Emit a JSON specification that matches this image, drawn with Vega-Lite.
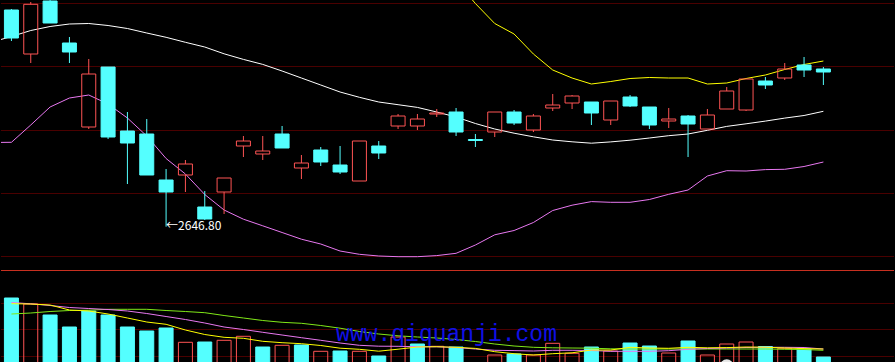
{
  "$schema": "https://vega.github.io/schema/vega-lite/v6.json",
  "width": 895,
  "height": 362,
  "autosize": {"type": "fit", "contains": "padding"},
  "padding": 0,
  "background": "#000000",
  "config": {"view": {"stroke": null}},
  "datasets": {
    "candles": [
      {"i":0,"open":2863.5,"close":2835.5,"high":2864.5,"low":2832.5},
      {"i":1,"open":2819.5,"close":2869.2,"high":2871.5,"low":2810.5},
      {"i":2,"open":2872.5,"close":2850.5,"high":2878.5,"low":2850.5},
      {"i":3,"open":2830.5,"close":2821.5,"high":2836.5,"low":2810.5},
      {"i":4,"open":2746.5,"close":2799.5,"high":2814.5,"low":2744.5},
      {"i":5,"open":2806.5,"close":2736.5,"high":2806.5,"low":2734.5},
      {"i":6,"open":2742.5,"close":2730.5,"high":2761.5,"low":2689.5},
      {"i":7,"open":2739.5,"close":2698.5,"high":2754.5,"low":2698.5},
      {"i":8,"open":2693.5,"close":2681.5,"high":2704.5,"low":2646.8},
      {"i":9,"open":2698.5,"close":2709.5,"high":2713.5,"low":2681.5},
      {"i":10,"open":2666.5,"close":2654.5,"high":2682.5,"low":2653.5},
      {"i":11,"open":2681.5,"close":2695.5,"high":2695.5,"low":2659.5},
      {"i":12,"open":2727.5,"close":2732.5,"high":2737.5,"low":2716.5},
      {"i":13,"open":2719.5,"close":2722.5,"high":2737.5,"low":2713.5},
      {"i":14,"open":2739.5,"close":2725.5,"high":2747.5,"low":2725.5},
      {"i":15,"open":2705.5,"close":2710.5,"high":2718.5,"low":2694.5},
      {"i":16,"open":2723.5,"close":2711.5,"high":2726.5,"low":2707.5},
      {"i":17,"open":2708.5,"close":2701.5,"high":2727.5,"low":2699.5},
      {"i":18,"open":2692.5,"close":2732.5,"high":2732.5,"low":2692.5},
      {"i":19,"open":2727.5,"close":2720.5,"high":2732.5,"low":2714.5},
      {"i":20,"open":2747.5,"close":2757.5,"high":2759.5,"low":2744.5},
      {"i":21,"open":2747.5,"close":2754.5,"high":2759.5,"low":2743.5},
      {"i":22,"open":2759.5,"close":2760.5,"high":2764.5,"low":2756.5},
      {"i":23,"open":2761.5,"close":2741.5,"high":2765.5,"low":2737.5},
      {"i":24,"open":2734,"close":2733,"high":2739.5,"low":2726.5},
      {"i":25,"open":2741.5,"close":2761.5,"high":2761.5,"low":2736.5},
      {"i":26,"open":2761.5,"close":2750.5,"high":2763.5,"low":2748.5},
      {"i":27,"open":2743.5,"close":2757.5,"high":2759.5,"low":2741.5},
      {"i":28,"open":2765.5,"close":2768.5,"high":2779.5,"low":2762.5},
      {"i":29,"open":2770.5,"close":2777.5,"high":2778.5,"low":2764.5},
      {"i":30,"open":2771.5,"close":2760.5,"high":2771.5,"low":2748.5},
      {"i":31,"open":2753.5,"close":2772.5,"high":2772.5,"low":2748.5},
      {"i":32,"open":2776.5,"close":2767.5,"high":2778.5,"low":2766.5},
      {"i":33,"open":2766.5,"close":2748.5,"high":2766.5,"low":2744.5},
      {"i":34,"open":2752.5,"close":2754.5,"high":2765.5,"low":2745.5},
      {"i":35,"open":2757.5,"close":2749.5,"high":2758.5,"low":2716.5},
      {"i":36,"open":2744.5,"close":2758.5,"high":2764.5,"low":2744.5},
      {"i":37,"open":2764.5,"close":2782.5,"high":2786.5,"low":2764.5},
      {"i":38,"open":2763.5,"close":2794.5,"high":2794.5,"low":2762.5},
      {"i":39,"open":2792.5,"close":2788.5,"high":2796.5,"low":2784.5},
      {"i":40,"open":2795.5,"close":2804.5,"high":2810.5,"low":2793.5},
      {"i":41,"open":2808.5,"close":2803.5,"high":2816.5,"low":2796.5},
      {"i":42,"open":2804.5,"close":2801.5,"high":2806.5,"low":2788.5}
    ],
    "bands": [
      {"i":-1,"mid":2831.5,"lower":2731},
      {"i":0,"mid":2837,"lower":2731.2},
      {"i":1,"mid":2843,"lower":2748.5},
      {"i":2,"mid":2847,"lower":2766.5},
      {"i":3,"mid":2849.5,"lower":2775.5},
      {"i":4,"mid":2850,"lower":2778.5},
      {"i":5,"mid":2848,"lower":2769.5},
      {"i":6,"mid":2845,"lower":2755.5},
      {"i":7,"mid":2840.5,"lower":2737.5},
      {"i":8,"mid":2836.2,"lower":2715},
      {"i":9,"mid":2831.2,"lower":2699.5},
      {"i":10,"mid":2826.5,"lower":2679},
      {"i":11,"mid":2819.7,"lower":2663.5},
      {"i":12,"mid":2814.1,"lower":2654.3},
      {"i":13,"mid":2809.1,"lower":2647.7},
      {"i":14,"mid":2802.5,"lower":2641},
      {"i":15,"mid":2795.5,"lower":2634.3},
      {"i":16,"mid":2788.5,"lower":2629.5},
      {"i":17,"mid":2781.5,"lower":2622.5},
      {"i":18,"mid":2776.2,"lower":2619.2},
      {"i":19,"mid":2771.5,"lower":2617.5},
      {"i":20,"mid":2768.8,"lower":2616.8},
      {"i":21,"mid":2766.1,"lower":2616.8},
      {"i":22,"upper":2905.1,"mid":2761.5,"lower":2617.9},
      {"i":23,"upper":2892.8,"mid":2756.5,"lower":2620.2},
      {"i":24,"upper":2870,"mid":2750,"lower":2628.5},
      {"i":25,"upper":2850,"mid":2744.5,"lower":2638.7},
      {"i":26,"upper":2839.5,"mid":2740.3,"lower":2643},
      {"i":27,"upper":2819.5,"mid":2736.7,"lower":2651},
      {"i":28,"upper":2803.5,"mid":2733.5,"lower":2663},
      {"i":29,"upper":2795.5,"mid":2731.7,"lower":2668.3},
      {"i":30,"upper":2789.5,"mid":2730.3,"lower":2671.9},
      {"i":31,"upper":2792,"mid":2731.6,"lower":2671.2},
      {"i":32,"upper":2795,"mid":2733.3,"lower":2671.2},
      {"i":33,"upper":2796,"mid":2735.5,"lower":2674},
      {"i":34,"upper":2795.5,"mid":2737.8,"lower":2679.2},
      {"i":35,"upper":2795.5,"mid":2739.5,"lower":2683.5},
      {"i":36,"upper":2789.5,"mid":2743.2,"lower":2697.5},
      {"i":37,"upper":2790.5,"mid":2747.1,"lower":2702.8},
      {"i":38,"upper":2795,"mid":2749.7,"lower":2702.5},
      {"i":39,"upper":2798.5,"mid":2752.4,"lower":2703.9},
      {"i":40,"upper":2804,"mid":2755.4,"lower":2704.2},
      {"i":41,"upper":2809,"mid":2758,"lower":2707},
      {"i":42,"upper":2812.5,"mid":2762.2,"lower":2711.5}
    ],
    "vol": [
      {"i":0,"vol":3120,"dir":"down"},{"i":1,"vol":2880,"dir":"up"},{"i":2,"vol":2440,"dir":"down"},
      {"i":3,"vol":1960,"dir":"down"},{"i":4,"vol":2600,"dir":"down"},{"i":5,"vol":2440,"dir":"down"},
      {"i":6,"vol":1960,"dir":"down"},{"i":7,"vol":1800,"dir":"down"},{"i":8,"vol":1920,"dir":"down"},
      {"i":9,"vol":1348,"dir":"up"},{"i":10,"vol":1360,"dir":"down"},{"i":11,"vol":1428,"dir":"up"},
      {"i":12,"vol":1588,"dir":"up"},{"i":13,"vol":1160,"dir":"down"},{"i":14,"vol":1228,"dir":"up"},
      {"i":15,"vol":1240,"dir":"down"},{"i":16,"vol":988,"dir":"up"},{"i":17,"vol":1000,"dir":"down"},
      {"i":18,"vol":988,"dir":"up"},{"i":19,"vol":800,"dir":"down"},{"i":20,"vol":1560,"dir":"up"},
      {"i":21,"vol":1280,"dir":"down"},{"i":22,"vol":1188,"dir":"up"},{"i":23,"vol":1160,"dir":"down"},
      {"i":24,"vol":332,"dir":"down"},{"i":25,"vol":840,"dir":"up"},{"i":26,"vol":880,"dir":"down"},
      {"i":27,"vol":840,"dir":"up"},{"i":28,"vol":1308,"dir":"up"},{"i":29,"vol":908,"dir":"up"},
      {"i":30,"vol":1160,"dir":"down"},{"i":31,"vol":1000,"dir":"up"},{"i":32,"vol":1320,"dir":"down"},
      {"i":33,"vol":1200,"dir":"down"},{"i":34,"vol":920,"dir":"up"},{"i":35,"vol":1400,"dir":"down"},
      {"i":36,"vol":840,"dir":"up"},{"i":37,"vol":1280,"dir":"up"},{"i":38,"vol":1360,"dir":"up"},
      {"i":39,"vol":1180,"dir":"down"},{"i":40,"vol":1108,"dir":"up"},{"i":41,"vol":1080,"dir":"down"},
      {"i":42,"vol":760,"dir":"down"}
    ],
    "vma": [
      {"i":0,"ma5":2892,"ma10":2940,"ma20":2480},
      {"i":1,"ma5":2880,"ma10":2888,"ma20":2520},
      {"i":2,"ma5":2840,"ma10":2820,"ma20":2580},
      {"i":3,"ma5":2640,"ma10":2740,"ma20":2620},
      {"i":4,"ma5":2600,"ma10":2700,"ma20":2632},
      {"i":5,"ma5":2480,"ma10":2660,"ma20":2668},
      {"i":6,"ma5":2320,"ma10":2600,"ma20":2668},
      {"i":7,"ma5":2160,"ma10":2500,"ma20":2668},
      {"i":8,"ma5":2068,"ma10":2380,"ma20":2620},
      {"i":9,"ma5":1840,"ma10":2260,"ma20":2580},
      {"i":10,"ma5":1660,"ma10":2120,"ma20":2532},
      {"i":11,"ma5":1548,"ma10":1960,"ma20":2420},
      {"i":12,"ma5":1508,"ma10":1860,"ma20":2320},
      {"i":13,"ma5":1388,"ma10":1748,"ma20":2220},
      {"i":14,"ma5":1332,"ma10":1640,"ma20":2148},
      {"i":15,"ma5":1292,"ma10":1532,"ma20":2108},
      {"i":16,"ma5":1220,"ma10":1428,"ma20":2020},
      {"i":17,"ma5":1112,"ma10":1320,"ma20":1912},
      {"i":18,"ma5":1068,"ma10":1228,"ma20":1780},
      {"i":19,"ma5":992,"ma10":1192,"ma20":1680},
      {"i":20,"ma5":1072,"ma10":1188,"ma20":1608},
      {"i":21,"ma5":1160,"ma10":1172,"ma20":1560},
      {"i":22,"ma5":1172,"ma10":1168,"ma20":1520},
      {"i":23,"ma5":1148,"ma10":1140,"ma20":1460},
      {"i":24,"ma5":1104,"ma10":1080,"ma20":1380},
      {"i":25,"ma5":972,"ma10":1028,"ma20":1280},
      {"i":26,"ma5":892,"ma10":1016,"ma20":1200},
      {"i":27,"ma5":840,"ma10":1000,"ma20":1148},
      {"i":28,"ma5":892,"ma10":1028,"ma20":1128},
      {"i":29,"ma5":928,"ma10":1028,"ma20":1120},
      {"i":30,"ma5":1040,"ma10":1020,"ma20":1112},
      {"i":31,"ma5":1040,"ma10":988,"ma20":1088},
      {"i":32,"ma5":1148,"ma10":988,"ma20":1080},
      {"i":33,"ma5":1120,"ma10":988,"ma20":1080},
      {"i":34,"ma5":1108,"ma10":1012,"ma20":1080},
      {"i":35,"ma5":1148,"ma10":1068,"ma20":1080},
      {"i":36,"ma5":1128,"ma10":1100,"ma20":1080},
      {"i":37,"ma5":1136,"ma10":1120,"ma20":1080},
      {"i":38,"ma5":1160,"ma10":1140,"ma20":1080},
      {"i":39,"ma5":1152,"ma10":1148,"ma20":1080},
      {"i":40,"ma5":1120,"ma10":1148,"ma20":1068},
      {"i":41,"ma5":1096,"ma10":1140,"ma20":1060},
      {"i":42,"ma5":1080,"ma10":1080,"ma20":1028}
    ]
  },
  "layer": [
    {
      "layer": [
        {
          "data": {"values": [{"p":2870},{"p":2807},{"p":2743},{"p":2680},{"p":2617}]},
          "mark": {"type": "rule", "color": "#4a0000", "strokeWidth": 1},
          "encoding": {"y": {"field": "p", "type": "quantitative", "scale": {"domain": [2511.5, 2873.5], "nice": false, "zero": false}, "axis": null}}
        },
        {
          "data": {"values": [{"p":2603}]},
          "mark": {"type": "rule", "color": "#c83020", "strokeWidth": 1},
          "encoding": {"y": {"field": "p", "type": "quantitative", "scale": {"domain": [2511.5, 2873.5], "nice": false, "zero": false}, "axis": null}}
        },
        {
          "data": {"name": "bands"},
          "mark": {"type": "line", "color": "#ffffff", "strokeWidth": 1, "clip": true},
          "encoding": {
            "x": {"field": "i", "type": "quantitative", "scale": {"domain": [-0.2807, 45.394], "nice": false, "zero": false}, "axis": null},
            "y": {"field": "mid", "type": "quantitative", "scale": {"domain": [2511.5, 2873.5], "nice": false, "zero": false}, "axis": null}
          }
        },
        {
          "data": {"name": "bands"},
          "mark": {"type": "line", "color": "#e878f0", "strokeWidth": 1, "clip": true},
          "encoding": {
            "x": {"field": "i", "type": "quantitative", "scale": {"domain": [-0.2807, 45.394], "nice": false, "zero": false}, "axis": null},
            "y": {"field": "lower", "type": "quantitative", "scale": {"domain": [2511.5, 2873.5], "nice": false, "zero": false}, "axis": null}
          }
        },
        {
          "data": {"name": "bands"},
          "transform": [{"filter": "isValid(datum.upper)"}],
          "mark": {"type": "line", "color": "#ffff00", "strokeWidth": 1, "clip": true},
          "encoding": {
            "x": {"field": "i", "type": "quantitative", "scale": {"domain": [-0.2807, 45.394], "nice": false, "zero": false}, "axis": null},
            "y": {"field": "upper", "type": "quantitative", "scale": {"domain": [2511.5, 2873.5], "nice": false, "zero": false}, "axis": null}
          }
        },
        {
          "data": {"name": "candles"},
          "transform": [{"filter": "datum.close <= datum.open"}],
          "mark": {"type": "rule", "color": "#54ffff", "strokeWidth": 1, "clip": true},
          "encoding": {
            "x": {"field": "i", "type": "quantitative", "scale": {"domain": [-0.2807, 45.394], "nice": false, "zero": false}, "axis": null},
            "y": {"field": "high", "type": "quantitative", "scale": {"domain": [2511.5, 2873.5], "nice": false, "zero": false}, "axis": null},
            "y2": {"field": "low"}
          }
        },
        {
          "data": {"name": "candles"},
          "transform": [{"filter": "datum.close > datum.open"}],
          "mark": {"type": "rule", "color": "#ff5454", "strokeWidth": 1, "clip": true},
          "encoding": {
            "x": {"field": "i", "type": "quantitative", "scale": {"domain": [-0.2807, 45.394], "nice": false, "zero": false}, "axis": null},
            "y": {"field": "high", "type": "quantitative", "scale": {"domain": [2511.5, 2873.5], "nice": false, "zero": false}, "axis": null},
            "y2": {"field": "close"}
          }
        },
        {
          "data": {"name": "candles"},
          "transform": [{"filter": "datum.close > datum.open"}],
          "mark": {"type": "rule", "color": "#ff5454", "strokeWidth": 1, "clip": true},
          "encoding": {
            "x": {"field": "i", "type": "quantitative", "scale": {"domain": [-0.2807, 45.394], "nice": false, "zero": false}, "axis": null},
            "y": {"field": "open", "type": "quantitative", "scale": {"domain": [2511.5, 2873.5], "nice": false, "zero": false}, "axis": null},
            "y2": {"field": "low"}
          }
        },
        {
          "data": {"name": "candles"},
          "mark": {"type": "bar", "orient": "vertical", "width": 14, "strokeWidth": 1, "clip": true},
          "encoding": {
            "x": {"field": "i", "type": "quantitative", "scale": {"domain": [-0.2807, 45.394], "nice": false, "zero": false}, "axis": null},
            "y": {"field": "open", "type": "quantitative", "scale": {"domain": [2511.5, 2873.5], "nice": false, "zero": false}, "axis": null},
            "y2": {"field": "close"},
            "fill": {"condition": {"test": "datum.close > datum.open", "value": "transparent"}, "value": "#54ffff"},
            "stroke": {"condition": {"test": "datum.close > datum.open", "value": "#ff5454"}, "value": "#54ffff"}
          }
        },
        {
          "data": {"values": [{"i": 8, "low": 2646.8, "label": "←2646.80"}]},
          "mark": {"type": "text", "align": "left", "baseline": "middle", "dy": -1, "font": "Noto Sans CJK SC", "fontSize": 12, "color": "#ffffff"},
          "encoding": {
            "x": {"field": "i", "type": "quantitative", "scale": {"domain": [-0.2807, 45.394], "nice": false, "zero": false}, "axis": null},
            "y": {"field": "low", "type": "quantitative", "scale": {"domain": [2511.5, 2873.5], "nice": false, "zero": false}, "axis": null},
            "text": {"field": "label"}
          }
        }
      ]
    },
    {
      "layer": [
        {
          "data": {"values": [{"v":2900},{"v":1860},{"v":780}]},
          "mark": {"type": "rule", "color": "#4a0000", "strokeWidth": 1},
          "encoding": {"y": {"field": "v", "type": "quantitative", "scale": {"domain": [560, 15040], "nice": false, "zero": false}, "axis": null}}
        },
        {
          "data": {"name": "vol"},
          "mark": {"type": "bar", "orient": "vertical", "width": 14, "strokeWidth": 1, "clip": true},
          "encoding": {
            "x": {"field": "i", "type": "quantitative", "scale": {"domain": [-0.2807, 45.394], "nice": false, "zero": false}, "axis": null},
            "y": {"field": "vol", "type": "quantitative", "scale": {"domain": [560, 15040], "nice": false, "zero": false}, "axis": null},
            "y2": {"datum": 0},
            "fill": {"condition": {"test": "datum.dir == 'up'", "value": "transparent"}, "value": "#54ffff"},
            "stroke": {"condition": {"test": "datum.dir == 'up'", "value": "#ff5454"}, "value": "#54ffff"}
          }
        },
        {
          "data": {"name": "vma"},
          "mark": {"type": "line", "color": "#80e818", "strokeWidth": 1, "clip": true},
          "encoding": {
            "x": {"field": "i", "type": "quantitative", "scale": {"domain": [-0.2807, 45.394], "nice": false, "zero": false}, "axis": null},
            "y": {"field": "ma20", "type": "quantitative", "scale": {"domain": [560, 15040], "nice": false, "zero": false}, "axis": null}
          }
        },
        {
          "data": {"name": "vma"},
          "mark": {"type": "line", "color": "#e878f0", "strokeWidth": 1, "clip": true},
          "encoding": {
            "x": {"field": "i", "type": "quantitative", "scale": {"domain": [-0.2807, 45.394], "nice": false, "zero": false}, "axis": null},
            "y": {"field": "ma10", "type": "quantitative", "scale": {"domain": [560, 15040], "nice": false, "zero": false}, "axis": null}
          }
        },
        {
          "data": {"name": "vma"},
          "mark": {"type": "line", "color": "#ffff00", "strokeWidth": 1, "clip": true},
          "encoding": {
            "x": {"field": "i", "type": "quantitative", "scale": {"domain": [-0.2807, 45.394], "nice": false, "zero": false}, "axis": null},
            "y": {"field": "ma5", "type": "quantitative", "scale": {"domain": [560, 15040], "nice": false, "zero": false}, "axis": null}
          }
        },
        {
          "data": {"values": [{"i": 37, "v": 400}]},
          "mark": {"type": "point", "shape": "circle", "filled": true, "color": "#e6e6e6", "opacity": 1, "size": 177, "clip": true},
          "encoding": {
            "x": {"field": "i", "type": "quantitative", "scale": {"domain": [-0.2807, 45.394], "nice": false, "zero": false}, "axis": null},
            "y": {"field": "v", "type": "quantitative", "scale": {"domain": [560, 15040], "nice": false, "zero": false}, "axis": null}
          }
        },
        {
          "data": {"values": [{"i": 22.506, "v": 1412, "label": "www.qiquanji.com"}]},
          "mark": {"type": "text", "align": "center", "baseline": "alphabetic", "font": "Liberation Mono", "fontSize": 23, "color": "#1010e6"},
          "encoding": {
            "x": {"field": "i", "type": "quantitative", "scale": {"domain": [-0.2807, 45.394], "nice": false, "zero": false}, "axis": null},
            "y": {"field": "v", "type": "quantitative", "scale": {"domain": [560, 15040], "nice": false, "zero": false}, "axis": null},
            "text": {"field": "label"}
          }
        }
      ]
    }
  ],
  "resolve": {"scale": {"y": "independent"}}
}
